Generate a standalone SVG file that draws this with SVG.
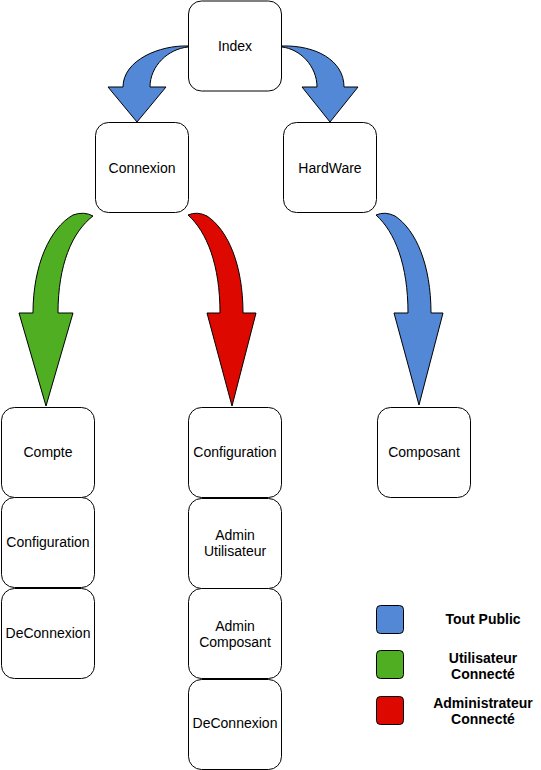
<svg xmlns="http://www.w3.org/2000/svg" width="541" height="770" viewBox="0 0 541 770">
<style>
.box{fill:#fff;stroke:#000;stroke-width:1}
.t{font-family:"Liberation Sans",Arial,sans-serif;font-size:14px;fill:#000;text-anchor:middle;dominant-baseline:central}
.lt{font-family:"Liberation Sans",Arial,sans-serif;font-size:14px;font-weight:bold;fill:#000;text-anchor:middle;dominant-baseline:central}
.ar{stroke:#000;stroke-width:1;stroke-linejoin:round}
.blue{fill:#5288D6}
.green{fill:#4FAE21}
.red{fill:#DD0900}
</style>
<rect width="541" height="770" fill="#fff"/>
<g id="connectors">
<path class="ar blue" d="M188,46 C160,45 123,60 123,87 L108,87 L137,122 L166,87 L150,87 C150,66 168,49 188,47 Z"/>
<path class="ar blue" d="M282,46 C315,45 344,60 344,87 L358,87 L330,122 L302,87 L317,87 C317,66 300,49 282,47 Z"/>
<path class="ar green" d="M93,216 Q84,211 73,215 C50,228 33,265 33,313 L19,313 L46,406 L73,313 L58,313 C58,265 72,232 93,216 Z"/>
<path class="ar red" d="M188,215 Q197,211 207,216 C228,230 243,265 243,313 L256,313 L232,406 L207,313 L220,313 C220,265 207,232 188,215 Z"/>
<path class="ar blue" d="M376,215 Q385,211 395,216 C416,230 431,265 431,313 L443,313 L419,405 L394,313 L408,313 C408,265 395,232 376,215 Z"/>
</g>
<g id="index"><rect class="box" x="188.5" y="1" width="93" height="90" rx="13"/><text class="t" x="235" y="46">Index</text></g>
<g id="connexion"><rect class="box" x="95.5" y="122.5" width="93" height="90" rx="13"/><text class="t" x="142" y="168">Connexion</text></g>
<g id="hardware"><rect class="box" x="283.5" y="122.5" width="93" height="90" rx="13"/><text class="t" x="330" y="168">HardWare</text></g>
<g id="compte"><rect class="box" x="1.5" y="407.5" width="93" height="90" rx="13"/><text class="t" x="48" y="452">Compte</text></g>
<g id="configuration-u"><rect class="box" x="1.5" y="497.5" width="93" height="90" rx="13"/><text class="t" x="48" y="542">Configuration</text></g>
<g id="deconnexion-u"><rect class="box" x="1.5" y="588.5" width="93" height="90" rx="13"/><text class="t" x="48" y="633">DeConnexion</text></g>
<g id="configuration-a"><rect class="box" x="188.5" y="407.5" width="93" height="90" rx="13"/><text class="t" x="235" y="452">Configuration</text></g>
<g id="admin-utilisateur"><rect class="box" x="188.5" y="498.5" width="93" height="90" rx="13"/><text class="t" x="235" y="535">Admin</text><text class="t" x="235" y="551">Utilisateur</text></g>
<g id="admin-composant"><rect class="box" x="188.5" y="588.5" width="93" height="90" rx="13"/><text class="t" x="235" y="626">Admin</text><text class="t" x="235" y="642">Composant</text></g>
<g id="deconnexion-a"><rect class="box" x="188.5" y="679.5" width="93" height="90" rx="13"/><text class="t" x="235" y="723">DeConnexion</text></g>
<g id="composant"><rect class="box" x="377.5" y="407.5" width="93" height="90" rx="13"/><text class="t" x="424" y="452">Composant</text></g>
<g id="legend-public"><rect class="ar blue" x="376.5" y="605.5" width="27" height="28" rx="4"/><text class="lt" x="483" y="619">Tout Public</text></g>
<g id="legend-user"><rect class="ar green" x="376.5" y="650.5" width="27" height="28" rx="4"/><text class="lt" x="483" y="658">Utilisateur</text><text class="lt" x="483" y="674">Connecté</text></g>
<g id="legend-admin"><rect class="ar red" x="376.5" y="696.5" width="27" height="28" rx="4"/><text class="lt" x="483" y="703">Administrateur</text><text class="lt" x="483" y="719">Connecté</text></g>
</svg>
